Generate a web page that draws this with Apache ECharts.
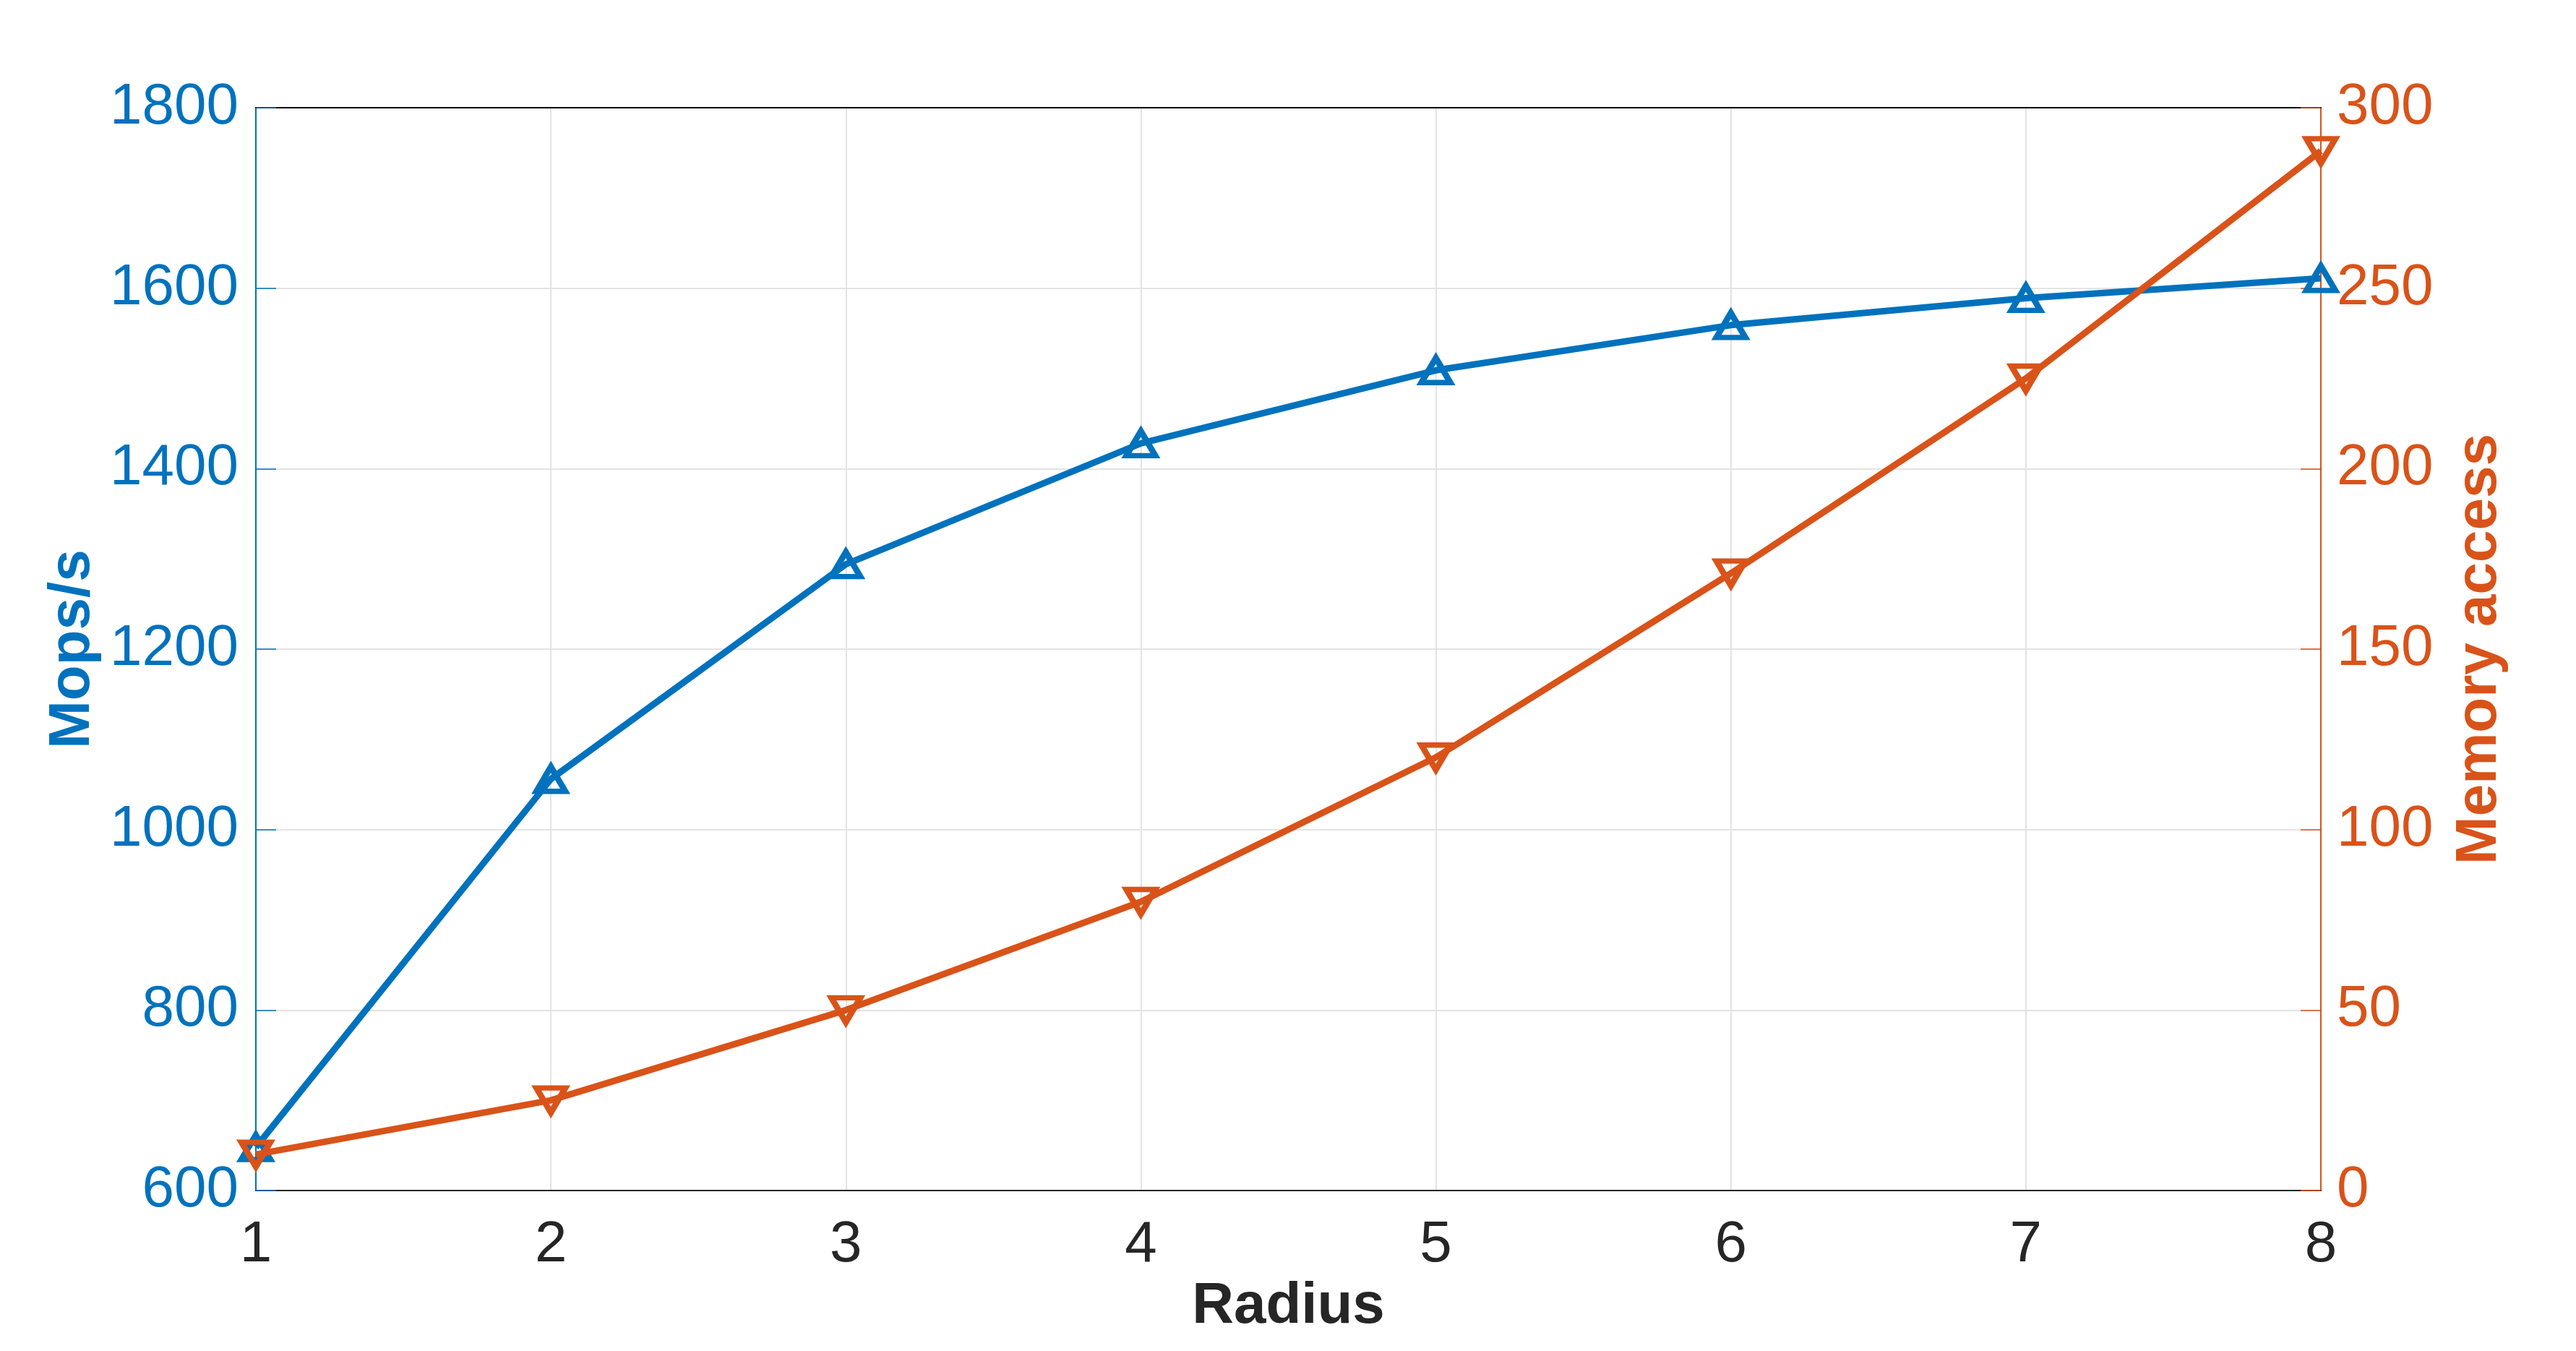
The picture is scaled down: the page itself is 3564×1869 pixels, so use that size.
<!DOCTYPE html>
<html>
<head>
<meta charset="utf-8">
<script src="https://cdn.jsdelivr.net/npm/echarts@6/dist/echarts.min.js"></script>
<style>
html,body{margin:0;padding:0;background:#fff;}
#main{width:3564px;height:1869px;}
</style>
</head>
<body>
<div id="main"></div>
<script>
// ---- data ----
const radius = [1, 2, 3, 4, 5, 6, 7, 8];
const mops = [648, 1056, 1294, 1428, 1509, 1559, 1589, 1611];
const memoryAccess = [10, 25, 50, 80, 120, 171, 225, 288];
const xName = 'Radius';
const yLeftName = 'Mops/s';
const yRightName = 'Memory access';

const BLUE = '#0072BD';
const ORANGE = '#D95319';
const DARK = '#262626';
const FONT = '"Liberation Sans", Arial, Helvetica, sans-serif';

const chart = echarts.init(document.getElementById('main'), null, {renderer: 'canvas'});

const pairs = (xs, ys) => xs.map((x, i) => [x, ys[i]]);
const plain = v => String(v);

const option = {
  backgroundColor: '#ffffff',
  animation: false,
  textStyle: {fontFamily: FONT},
  grid: {
    left: 354, right: 353, top: 149, bottom: 222,
    show: true, borderColor: '#000000', borderWidth: 2, backgroundColor: 'transparent'
  },
  xAxis: [
    {
      type: 'value', min: 1, max: 8, interval: 1, position: 'bottom',
      name: xName, nameLocation: 'middle', nameGap: 112,
      nameTextStyle: {fontFamily: FONT, fontSize: 80, fontWeight: 'bold', color: DARK},
      axisLine: {show: true, lineStyle: {color: DARK, width: 2}},
      axisTick: {show: false},
      axisLabel: {fontFamily: FONT, fontSize: 80, color: DARK, margin: 36, formatter: plain},
      splitLine: {show: true, lineStyle: {color: '#e3e3e3', width: 2}}
    },
    {
      type: 'value', min: 1, max: 8, interval: 1, position: 'top',
      axisLine: {show: true, lineStyle: {color: '#000000', width: 2}},
      axisTick: {show: false},
      axisLabel: {show: false},
      splitLine: {show: false}
    }
  ],
  yAxis: [
    {
      type: 'value', min: 600, max: 1800, interval: 200, position: 'left',
      name: yLeftName, nameLocation: 'middle', nameGap: 184, nameRotate: 90,
      nameTextStyle: {fontFamily: FONT, fontSize: 80, fontWeight: 'bold', color: BLUE},
      axisLine: {show: true, lineStyle: {color: BLUE, width: 2}},
      axisTick: {show: true, inside: true, length: 28, lineStyle: {color: BLUE, width: 1.5}},
      axisLabel: {fontFamily: FONT, fontSize: 80, color: BLUE, margin: 24, formatter: plain},
      splitLine: {show: true, lineStyle: {color: '#e3e3e3', width: 2}}
    },
    {
      type: 'value', min: 0, max: 300, interval: 50, position: 'right',
      name: yRightName, nameLocation: 'middle', nameGap: 180, nameRotate: 90,
      nameTextStyle: {fontFamily: FONT, fontSize: 80, fontWeight: 'bold', color: ORANGE},
      axisLine: {show: true, lineStyle: {color: ORANGE, width: 2}},
      axisTick: {show: true, inside: true, length: 28, lineStyle: {color: ORANGE, width: 1.5}},
      axisLabel: {fontFamily: FONT, fontSize: 80, color: ORANGE, margin: 22, formatter: plain},
      splitLine: {show: false}
    }
  ],
  series: [
    {
      name: yLeftName, type: 'line', xAxisIndex: 0, yAxisIndex: 0,
      data: pairs(radius, mops),
      symbol: 'triangle', symbolSize: [40, 34], showAllSymbol: true,
      lineStyle: {color: BLUE, width: 9},
      itemStyle: {color: 'rgba(255,255,255,0)', borderColor: BLUE, borderWidth: 8},
      z: 3
    },
    {
      name: yRightName, type: 'line', xAxisIndex: 0, yAxisIndex: 1,
      data: pairs(radius, memoryAccess),
      symbol: 'triangle', symbolRotate: 180, symbolSize: [40, 34], showAllSymbol: true,
      lineStyle: {color: ORANGE, width: 9},
      itemStyle: {color: 'rgba(255,255,255,0)', borderColor: ORANGE, borderWidth: 8},
      z: 4
    }
  ]
};
chart.setOption(option);
</script>
</body>
</html>
